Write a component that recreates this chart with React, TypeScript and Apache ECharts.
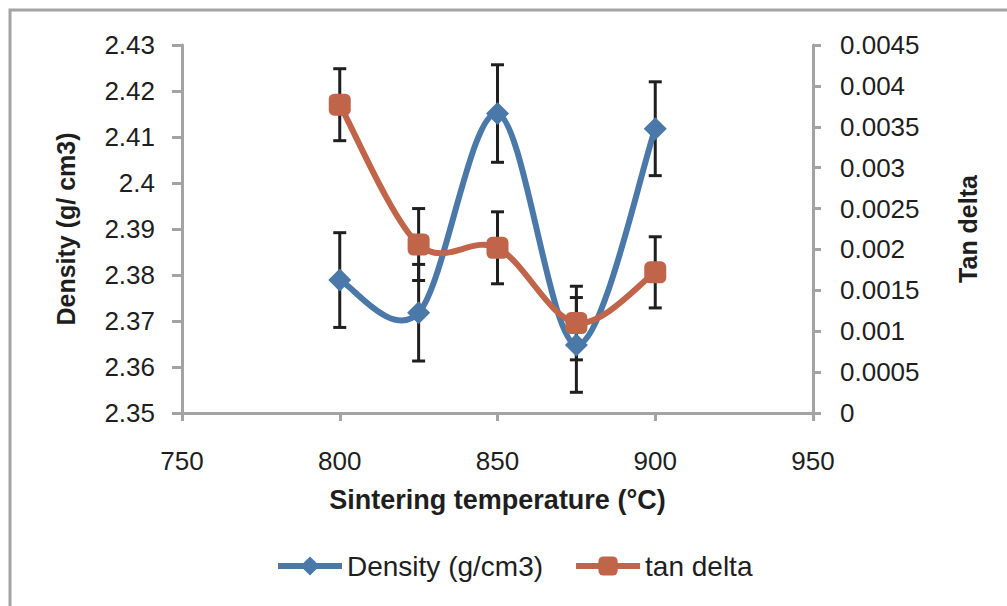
import React, { useEffect, useRef } from "react";
import * as echarts from "echarts";

const temperatures = [800, 825, 850, 875, 900];
const density = [2.3789, 2.3718, 2.4151, 2.3648, 2.4118];
const densityErr = [0.0103, 0.0105, 0.0106, 0.0103, 0.0102];
const tanDelta = [0.00377, 0.00206, 0.00202, 0.0011, 0.00172];
const tanDeltaErr = [0.00044, 0.00044, 0.00044, 0.00045, 0.000435];

const BLUE = "#4a78a9";
const ORANGE = "#c0644a";
const AXIS = "#a3a3a3";
const TEXT = "#1e1e1e";

const errorRender = (params: any, api: any) => {
  const x = api.value(0);
  const y = api.value(1);
  const e = api.value(2);
  const top = api.coord([x, y + e]);
  const bot = api.coord([x, y - e]);
  const w = 6.5;
  const style = { stroke: "#1f1f1f", lineWidth: 3 };
  return {
    type: "group",
    children: [
      { type: "line", shape: { x1: top[0], y1: top[1], x2: bot[0], y2: bot[1] }, style },
      { type: "line", shape: { x1: top[0] - w, y1: top[1], x2: top[0] + w, y2: top[1] }, style },
      { type: "line", shape: { x1: bot[0] - w, y1: bot[1], x2: bot[0] + w, y2: bot[1] }, style },
    ],
  };
};

// Excel-like smoothed line (Catmull-Rom as cubic Bezier), drawn through the axes' scales
const curveRender = (xs: number[], ys: number[], color: string) => (params: any, api: any) => {
  if (params.dataIndex !== 0) return null;
  const pts = xs.map((x, i) => api.coord([x, ys[i]]));
  const children: any[] = [];
  for (let i = 0; i < pts.length - 1; i++) {
    const p0 = pts[Math.max(0, i - 1)];
    const p1 = pts[i];
    const p2 = pts[i + 1];
    const p3 = pts[Math.min(pts.length - 1, i + 2)];
    children.push({
      type: "bezierCurve",
      shape: {
        x1: p1[0],
        y1: p1[1],
        x2: p2[0],
        y2: p2[1],
        cpx1: p1[0] + (p2[0] - p0[0]) / 6,
        cpy1: p1[1] + (p2[1] - p0[1]) / 6,
        cpx2: p2[0] - (p3[0] - p1[0]) / 6,
        cpy2: p2[1] - (p3[1] - p1[1]) / 6,
      },
      style: { stroke: color, lineWidth: 6, fill: "none", lineCap: "round" },
    });
  }
  return { type: "group", children };
};

export default function App() {
  const ref = useRef<HTMLDivElement>(null);
  useEffect(() => {
    if (!ref.current) return;
    const chart = echarts.init(ref.current, null, { renderer: "svg" });
    const font = "'Liberation Sans', Arial, sans-serif";
    const titleFont = "'Liberation Sans Narrow', 'Liberation Sans', Arial, sans-serif";
    chart.setOption({
      animation: false,
      backgroundColor: "#ffffff",
      textStyle: { fontFamily: font },
      graphic: [
        {
          type: "rect",
          shape: { x: 10, y: 10, width: 1100, height: 700 },
          style: { fill: "none", stroke: AXIS, lineWidth: 3 },
          silent: true,
        },
      ],
      grid: { left: 182, right: 194, top: 45, bottom: 193 },
      legend: {
        left: 270,
        top: 547,
        itemWidth: 64,
        itemHeight: 24,
        itemGap: 30,
        textStyle: { fontSize: 28, color: TEXT, fontFamily: font },
        data: [
          { name: "Density (g/cm3)", itemStyle: { color: BLUE }, lineStyle: { color: BLUE, width: 6, opacity: 1 } },
          { name: "tan delta", itemStyle: { color: ORANGE }, lineStyle: { color: ORANGE, width: 6, opacity: 1 } },
        ],
      },
      xAxis: {
        type: "value",
        min: 750,
        max: 950,
        interval: 50,
        name: "Sintering temperature (°C)",
        nameLocation: "middle",
        nameGap: 73,
        nameTextStyle: { fontSize: 27, fontWeight: "bold", color: TEXT, fontFamily: titleFont },
        axisLine: { show: true, lineStyle: { color: AXIS, width: 3 } },
        axisTick: { show: true, length: 8, lineStyle: { color: AXIS, width: 3 } },
        axisLabel: { fontSize: 26, color: TEXT, margin: 35 },
        splitLine: { show: false },
      },
      yAxis: [
        {
          type: "value",
          min: 2.35,
          max: 2.43,
          interval: 0.01,
          name: "Density (g/ cm3)",
          nameLocation: "middle",
          nameRotate: 90,
          nameGap: 104,
          nameTextStyle: { fontSize: 25, fontWeight: "bold", color: TEXT, fontFamily: titleFont },
          axisLine: { show: true, lineStyle: { color: AXIS, width: 3 } },
          axisTick: { show: true, length: 10, lineStyle: { color: AXIS, width: 3 } },
          axisLabel: { fontSize: 26, color: TEXT, margin: 27 },
          splitLine: { show: false },
        },
        {
          type: "value",
          min: 0,
          max: 0.0045,
          interval: 0.0005,
          position: "right",
          name: "Tan delta",
          nameLocation: "middle",
          nameRotate: 90,
          nameGap: 142,
          nameTextStyle: { fontSize: 25, fontWeight: "bold", color: TEXT, fontFamily: titleFont },
          axisLine: { show: true, lineStyle: { color: AXIS, width: 3 } },
          axisTick: { show: true, length: 8, lineStyle: { color: AXIS, width: 3 } },
          axisLabel: { fontSize: 26, color: TEXT, margin: 27 },
          splitLine: { show: false },
        },
      ],
      series: [
        {
          type: "custom",
          name: "densityErr",
          yAxisIndex: 0,
          renderItem: errorRender,
          data: temperatures.map((t, i) => [t, density[i], densityErr[i]]),
          z: 1,
          silent: true,
        },
        {
          type: "custom",
          name: "tanErr",
          yAxisIndex: 1,
          renderItem: errorRender,
          data: temperatures.map((t, i) => [t, tanDelta[i], tanDeltaErr[i]]),
          z: 1,
          silent: true,
        },
        {
          type: "custom",
          name: "densityCurve",
          yAxisIndex: 0,
          renderItem: curveRender(temperatures, density, BLUE),
          data: temperatures.map((t, i) => [t, density[i]]),
          z: 2,
          silent: true,
        },
        {
          type: "line",
          name: "Density (g/cm3)",
          yAxisIndex: 0,
          data: temperatures.map((t, i) => [t, density[i]]),
          symbol: "diamond",
          symbolSize: 23,
          lineStyle: { color: BLUE, width: 6, opacity: 0 },
          itemStyle: { color: BLUE },
          z: 3,
        },
        {
          type: "custom",
          name: "tanCurve",
          yAxisIndex: 1,
          renderItem: curveRender(temperatures, tanDelta, ORANGE),
          data: temperatures.map((t, i) => [t, tanDelta[i]]),
          z: 4,
          silent: true,
        },
        {
          type: "line",
          name: "tan delta",
          yAxisIndex: 1,
          data: temperatures.map((t, i) => [t, tanDelta[i]]),
          symbol: "roundRect",
          symbolSize: 22,
          lineStyle: { color: ORANGE, width: 6, opacity: 0 },
          itemStyle: { color: ORANGE },
          z: 5,
        },
      ],
    });
    return () => chart.dispose();
  }, []);
  return (
    <div
      ref={ref}
      style={{ position: "absolute", left: 0, top: 0, width: 1007, height: 606 }}
    />
  );
}
